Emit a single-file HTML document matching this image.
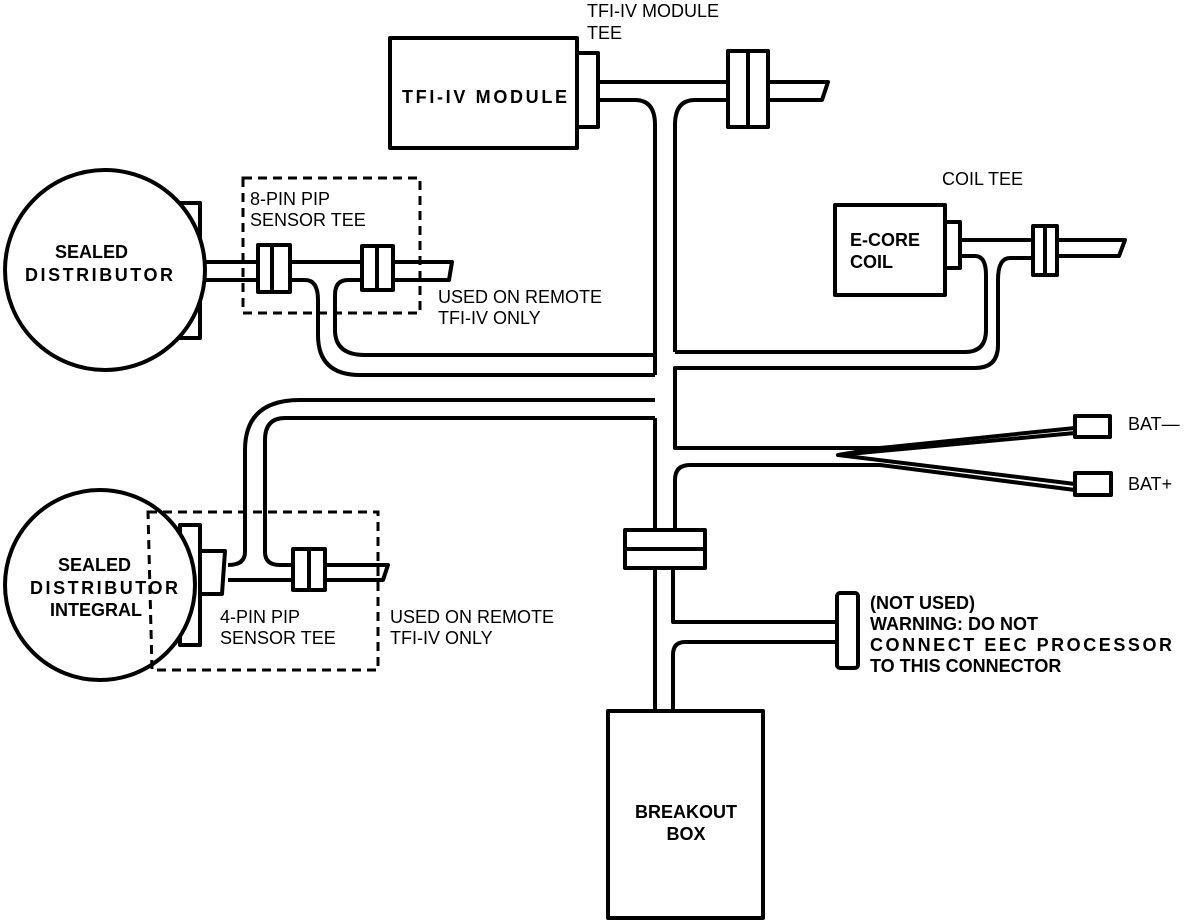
<!DOCTYPE html>
<html><head><meta charset="utf-8"><style>
html,body{margin:0;padding:0;background:#fff;}
svg{display:block;}
text{font-family:"Liberation Sans",Arial,sans-serif;fill:#000;}
.b{font-weight:bold;font-size:18px;}
.n{font-size:18px;}
</style></head><body>
<svg width="1200" height="922" viewBox="0 0 1200 922" xmlns="http://www.w3.org/2000/svg">
<g fill="none" stroke="#000" stroke-width="4" stroke-linejoin="round">
<!-- TFI module -->
<rect x="390" y="38" width="187" height="110" fill="#fff"/>
<rect x="577" y="53" width="21" height="74" fill="#fff"/>
<path d="M598 82 H728 M768 82 H828 L822 100 H768"/>
<path d="M598 100 H635 Q655 100 655 125 V375"/>
<path d="M728 100 H695 Q675 100 675 125 V352"/>
<rect x="728" y="51" width="40" height="76" fill="#fff"/>
<line x1="748" y1="51" x2="748" y2="127"/>
<!-- Coil -->
<rect x="835" y="205" width="110" height="90" fill="#fff"/>
<rect x="945" y="222" width="15" height="46" fill="#fff"/>
<path d="M960 240 H1033 M1057 240 H1125 L1119 256 H1057"/>
<path d="M960 256 H975 Q986 256 986 275 V330 Q986 352 965 352 H675"/>
<path d="M1033 258 H1010 Q998 258 998 280 V345 Q998 368 975 368 H675 V448 Q675 448 690 448 H880 L1075 428"/>
<rect x="1033" y="226" width="24" height="49" fill="#fff"/>
<line x1="1045" y1="226" x2="1045" y2="275"/>
<!-- BAT connectors -->
<path d="M880 448 L838 455 L1075 433"/>
<path d="M838 455 L1075 484 M690 465 L880 465 L1075 490"/>
<path d="M690 465 Q675 465 675 480 V530"/>
<path d="M655 418 V530"/>
<rect x="1075" y="416" width="35" height="21" fill="#fff"/>
<rect x="1075" y="473" width="36" height="22" fill="#fff"/>
<!-- breakout tee -->
<rect x="625" y="530" width="80" height="38" fill="#fff"/>
<line x1="625" y1="549" x2="705" y2="549"/>
<path d="M655 568 V711 M673 568 V622 H837 M837 642 H685 Q673 642 673 655 V711"/>
<rect x="837" y="593" width="21" height="75" rx="3" fill="#fff"/>
<rect x="608" y="711" width="155" height="207" fill="#fff"/>
<!-- 8-pin left -->
<rect x="145" y="203" width="55" height="135" fill="#fff"/>
<circle cx="105" cy="270" r="100" fill="#fff"/>
<path d="M203 262 H258 M290 262 H362 M393 262 H452 L449 280 H393"/>
<path d="M203 280 H258"/>
<path d="M290 280 H305 Q318 280 318 300 V335 Q318 375 360 375 H655 M655 400 H300 Q245 400 245 450 V552 Q245 565 228 565"/>
<path d="M362 280 H348 Q335 280 335 295 V330 Q335 355 365 355 H655"/>
<path d="M655 418 H285 Q265 418 265 440 V552 Q265 565 280 565 H293"/>
<rect x="258" y="245" width="32" height="47" fill="#fff"/>
<line x1="272" y1="245" x2="272" y2="292"/>
<rect x="362" y="246" width="31" height="44" fill="#fff"/>
<line x1="377" y1="246" x2="377" y2="290"/>
<!-- integral -->
<rect x="180" y="525" width="20" height="120" fill="#fff"/>
<circle cx="100" cy="585" r="95" fill="#fff"/>
<path d="M200 551 H225 L222 594 H200 Z" fill="#fff"/>
<path d="M228 580 H293 M325 565 H388 L383 580 H325"/>
<rect x="293" y="549" width="32" height="41" fill="#fff"/>
<line x1="309" y1="549" x2="309" y2="590"/>
</g>
<g fill="none" stroke="#000" stroke-width="3" stroke-dasharray="9,6">
<rect x="243" y="178" width="177" height="135"/>
<path d="M148 512 H378 V670 H152 Z"/>
</g>
<text class="b" x="402" y="103" textLength="165">TFI-IV MODULE</text>
<text class="n" x="587" y="17">TFI-IV MODULE</text>
<text class="n" x="587" y="39">TEE</text>
<text class="n" x="942" y="185">COIL TEE</text>
<text class="b" x="850" y="246">E-CORE</text>
<text class="b" x="850" y="268">COIL</text>
<text class="b" x="55" y="258">SEALED</text>
<text class="b" x="25" y="281" textLength="148">DISTRIBUTOR</text>
<text class="n" x="250" y="205">8-PIN PIP</text>
<text class="n" x="250" y="226">SENSOR TEE</text>
<text class="n" x="438" y="303">USED ON REMOTE</text>
<text class="n" x="438" y="324">TFI-IV ONLY</text>
<text class="n" x="1128" y="490">BAT+</text>
<text class="n" x="1128" y="430">BAT—</text>
<text class="b" x="58" y="571">SEALED</text>
<text class="b" x="30" y="594" textLength="148">DISTRIBUTOR</text>
<text class="b" x="50" y="616">INTEGRAL</text>
<text class="n" x="220" y="623">4-PIN PIP</text>
<text class="n" x="220" y="644">SENSOR TEE</text>
<text class="n" x="390" y="623">USED ON REMOTE</text>
<text class="n" x="390" y="644">TFI-IV ONLY</text>
<text class="b" x="870" y="609">(NOT USED)</text>
<text class="b" x="870" y="630">WARNING: DO NOT</text>
<text class="b" x="870" y="651" textLength="302">CONNECT EEC PROCESSOR</text>
<text class="b" x="870" y="672">TO THIS CONNECTOR</text>
<text class="b" x="686" y="818" text-anchor="middle">BREAKOUT</text>
<text class="b" x="686" y="840" text-anchor="middle">BOX</text>
</svg>
</body></html>
